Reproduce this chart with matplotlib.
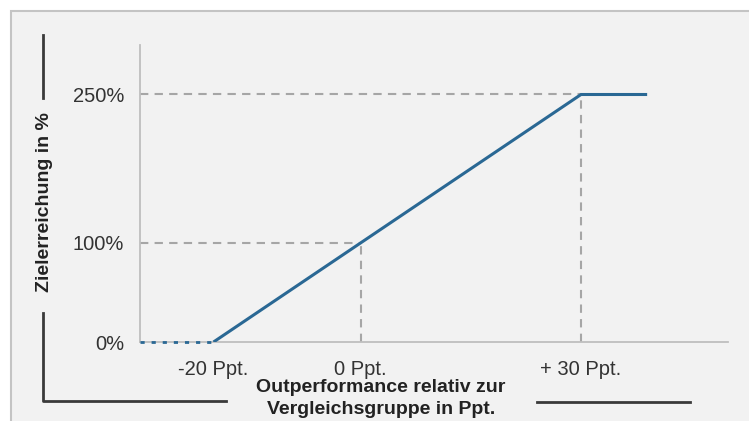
import matplotlib.pyplot as plt
from matplotlib.patches import Rectangle

plt.rcParams['font.family'] = ['Liberation Sans', 'DejaVu Sans']

# data
curve_x = [-20, 0, 30, 39]
curve_y = [0, 100, 250, 250]
floor_x = [-30, -20]
floor_y = [0, 0]
ref_x = [0, 30]          # points with dashed guide lines
ref_y = [100, 250]
xtick_vals = [-20, 0, 30]
xtick_labels = ['-20 Ppt.', '0 Ppt.', '+ 30 Ppt.']
ytick_vals = [0, 100, 250]
ytick_labels = ['0%', '100%', '250%']

W, H = 749, 421
fig = plt.figure(figsize=(W / 100, H / 100), dpi=100)
fig.patch.set_facecolor('white')

# overlay in pixel coords for the frame and decoration lines
ov = fig.add_axes([0, 0, 1, 1])
ov.set_xlim(0, W)
ov.set_ylim(H, 0)
ov.axis('off')
ov.add_patch(Rectangle((11, 11), W, H, facecolor='#f2f2f2', edgecolor='#c4c4c4', lw=1.5))
lc = '#3a3a3a'
ov.plot([43, 43], [35, 98], color=lc, lw=2)
ov.plot([43, 43, 226], [313, 401, 401], color=lc, lw=2)
ov.plot([537, 690], [402, 402], color=lc, lw=2)

# main axes
ax = fig.add_axes([140 / W, 1 - 342 / H, (728 - 140) / W, (342 - 45) / H])
ax.set_facecolor('none')
ax.set_xlim(-30, 50)
ax.set_ylim(0, 300)
for s in ['top', 'right']:
    ax.spines[s].set_visible(False)
for s in ['left', 'bottom']:
    ax.spines[s].set_color('#bfbfbf')
    ax.spines[s].set_linewidth(1.3)

# dashed guide lines
for rx, ry in zip(ref_x, ref_y):
    ax.plot([-30, rx], [ry, ry], color='#a6a6a6', lw=1.5, ls=(0, (4, 3)), zorder=2)
    ax.plot([rx, rx], [0, ry], color='#a6a6a6', lw=1.5, ls=(0, (4, 3)), zorder=2)

ax.plot(floor_x, floor_y, color='#2a6894', lw=2, ls=(0, (1.5, 2.5)), zorder=3, clip_on=False)
ax.plot(curve_x, curve_y, color='#2a6894', lw=2.2, zorder=4, solid_capstyle='butt')

ax.set_xticks(xtick_vals)
ax.set_xticklabels(xtick_labels)
ax.set_yticks(ytick_vals)
ax.set_yticklabels(ytick_labels)
ax.tick_params(axis='both', length=0, labelsize=14.5, colors='#333333')
ax.tick_params(axis='x', pad=13)
ax.tick_params(axis='y', pad=11.5)

fig.text(45 / W, 1 - 202 / H, 'Zielerreichung in %', rotation=90, ha='center', va='center',
         fontsize=14, fontweight='bold', color='#222222')
fig.text(381 / W, 1 - 387 / H, 'Outperformance relativ zur', ha='center', va='center',
         fontsize=14, fontweight='bold', color='#222222')
fig.text(381 / W, 1 - 409 / H, 'Vergleichsgruppe in Ppt.', ha='center', va='center',
         fontsize=14, fontweight='bold', color='#222222')

fig.savefig('out.png', dpi=100, facecolor=fig.get_facecolor())
